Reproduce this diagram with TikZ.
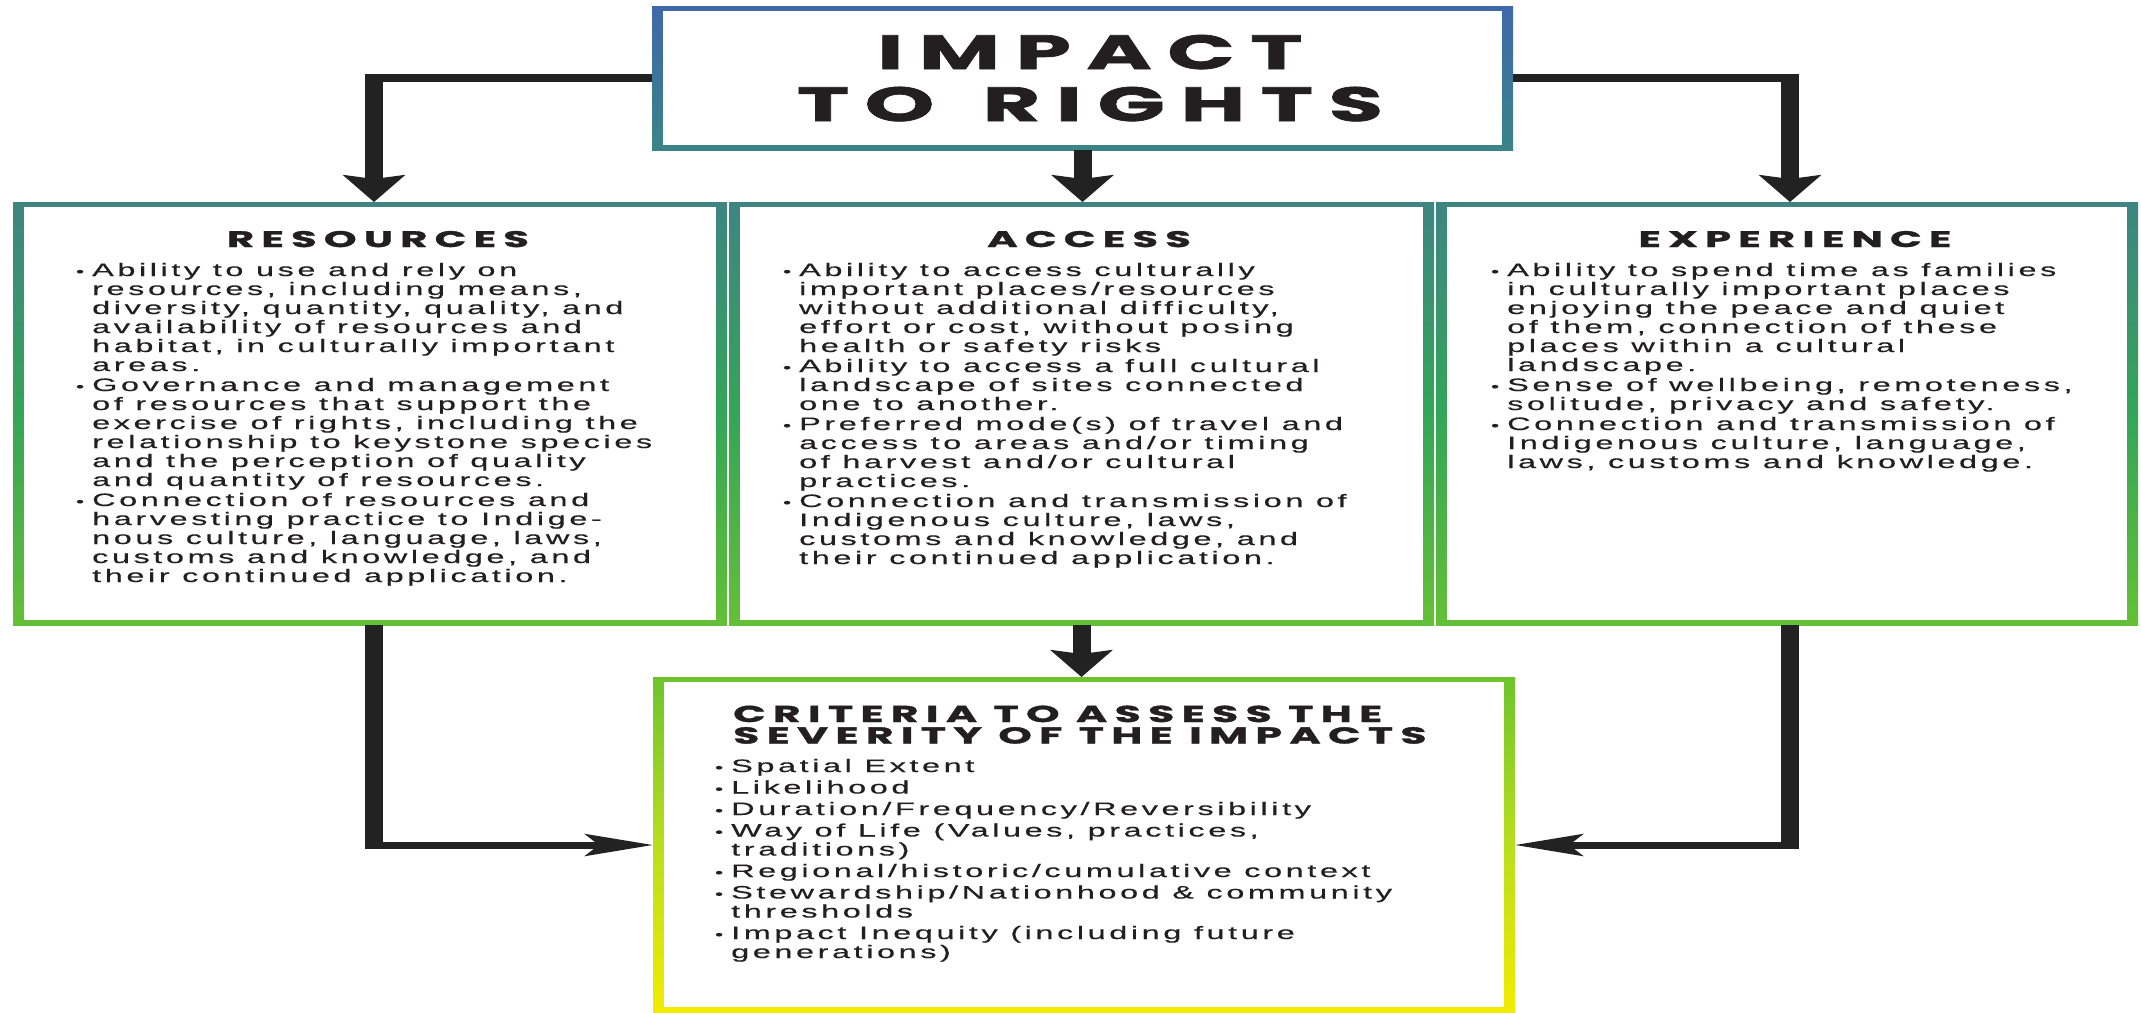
\documentclass[tikz,border=0pt]{standalone}
\usepackage{fontspec}
\usetikzlibrary{arrows.meta}
\setmainfont{Liberation Sans}
\newfontfamily\bodyfont{Liberation Sans}[FakeStretch=1.8,LetterSpace=20,FakeBold=0.4]
\newfontfamily\headfont{Poppins}[FakeStretch=1.85,LetterSpace=32,FakeBold=1.5]
\definecolor{ink}{RGB}{34,34,34}
\definecolor{txt}{RGB}{35,31,32}
\definecolor{tbA}{RGB}{63,104,170}
\definecolor{tbB}{RGB}{58,132,135}
\definecolor{tgA}{RGB}{62,133,130}
\definecolor{tgB}{RGB}{52,165,88}
\definecolor{tgC}{RGB}{100,192,55}
\definecolor{gyA}{RGB}{110,195,45}
\definecolor{gyB}{RGB}{185,222,30}
\definecolor{gyC}{RGB}{242,235,0}
\newcommand{\bul}{\noindent\llap{{\fontsize{13}{13}\selectfont\textbullet}\hspace{8pt}}}
\newcommand{\btext}[1]{\parbox[t]{760pt}{\bodyfont\fontsize{18}{19}\selectfont\setlength{\parindent}{0pt}\setlength{\parskip}{1pt}\raggedright #1}}
\newcommand{\ctext}[1]{\parbox[t]{760pt}{\bodyfont\fontsize{18}{19}\selectfont\setlength{\parindent}{0pt}\setlength{\parskip}{2.5pt}\raggedright #1}}
\begin{document}
\begin{tikzpicture}[x=1pt,y=-1pt,
  box/.style={rectangle, inner sep=0pt, outer sep=0pt, anchor=north west,
    path picture={\fill[white] ([xshift=11pt,yshift=-5pt]path picture bounding box.north west) rectangle ([xshift=-11pt,yshift=5pt]path picture bounding box.south east);}},
  tb/.style={top color=tbA, bottom color=tbB},
  tg/.style={top color=tgA, bottom color=tgC, middle color=tgB},
  gy/.style={top color=gyA, bottom color=gyC, middle color=gyB},
  head/.style={anchor=base, inner sep=0pt, text=txt, font=\headfont\bfseries\fontsize{22.5}{22.5}\selectfont},
  body/.style={anchor=base west, inner sep=0pt, text=txt},
  hl/.style={draw=ink, line width=8pt},
  vl/.style={draw=ink, line width=18pt},
  downarr/.style={vl, -{Stealth[length=27pt,width=62pt,inset=4pt]}},
  sidearr/.style={draw=ink, line width=7pt, -{Stealth[length=68pt,width=22pt,inset=14pt]}}
]
\useasboundingbox (0,0) rectangle (2141,1012);
\fill[white] (0,0) rectangle (2141,1012);

% boxes
\node[box, tb, minimum width=861pt, minimum height=144pt] (title) at (652,6) {};
\node[box, tg, minimum width=714pt, minimum height=423pt] (res) at (13,202) {};
\node[box, tg, minimum width=705pt, minimum height=423pt] (acc) at (729,202) {};
\node[box, tg, minimum width=702pt, minimum height=423pt] (exp) at (1436,202) {};
\node[box, gy, minimum width=862pt, minimum height=335pt] (crit) at (653,677) {};

% title
\node[anchor=base, inner sep=0pt, text=txt] (ttext) at (1090,69)
  {\parbox[t]{850pt}{\centering\headfont\bfseries\fontsize{48}{52}\selectfont IMPACT\\TO\hspace{14pt} RIGHTS}};

% headings
\node[head] (hres) at (378,247) {RESOURCES};
\node[head] (hacc) at (1089,247) {ACCESS};
\node[head] (hexp) at (1795,247) {EXPERIENCE};
\node[anchor=base west, inner sep=0pt, text=txt] (hcrit) at (733,722)
  {\parbox[t]{760pt}{\headfont\bfseries\fontsize{23}{21.5}\selectfont CRITERIA TO ASSESS THE\\SEVERITY OF THE IMPACTS}};

% bodies
\node[body] (bres) at (92,276) {\btext{%
\bul Ability to use and rely on\\resources, including means,\\diversity, quantity, quality, and\\availability of resources and\\habitat, in culturally important\\areas.\par
\bul Governance and management\\of resources that support the\\exercise of rights, including the\\relationship to keystone species\\and the perception of quality\\and quantity of resources.\par
\bul Connection of resources and\\harvesting practice to Indige-\\nous culture, language, laws,\\customs and knowledge, and\\their continued application.\par}};

\node[body] (bacc) at (799,276) {\btext{%
\bul Ability to access culturally\\important places/resources\\without additional difficulty,\\effort or cost, without posing\\health or safety risks\par
\bul Ability to access a full cultural\\landscape of sites connected\\one to another.\par
\bul Preferred mode(s) of travel and\\access to areas and/or timing\\of harvest and/or cultural\\practices.\par
\bul Connection and transmission of\\Indigenous culture, laws,\\customs and knowledge, and\\their continued application.\par}};

\node[body] (bexp) at (1507,276) {\btext{%
\bul Ability to spend time as families\\in culturally important places\\enjoying the peace and quiet\\of them, connection of these\\places within a cultural\\landscape.\par
\bul Sense of wellbeing, remoteness,\\solitude, privacy and safety.\par
\bul Connection and transmission of\\Indigenous culture, language,\\laws, customs and knowledge.\par}};

\node[body] (bcrit) at (731,772) {\ctext{%
\bul Spatial Extent\par
\bul Likelihood\par
\bul Duration/Frequency/Reversibility\par
\bul Way of Life (Values, practices,\\traditions)\par
\bul Regional/historic/cumulative context\par
\bul Stewardship/Nationhood \& community\\thresholds\par
\bul Impact Inequity (including future\\generations)\par}};

% connectors
\coordinate (lc) at (374,78);
\coordinate (rc) at (1790,78);
\coordinate (lb) at (374,845);
\coordinate (rb) at (1790,845);
\draw[hl] (title.west) -- ([xshift=-9pt]lc);
\draw[downarr] ([yshift=4pt]lc) -- (lc |- res.north);
\draw[hl] (title.east) -- ([xshift=9pt]rc);
\draw[downarr] ([yshift=4pt]rc) -- (rc |- exp.north);
\draw[downarr] (title.south) -- (title.south |- acc.north);
\draw[downarr] (acc.south) -- (acc.south |- crit.north);
\draw[vl] (lb |- res.south) -- ([yshift=-4pt]lb);
\draw[sidearr] ([xshift=-9pt]lb) -- (crit.west |- lb);
\draw[vl] (rb |- exp.south) -- ([yshift=-4pt]rb);
\draw[sidearr] ([xshift=9pt]rb) -- (crit.east |- rb);
\end{tikzpicture}
\end{document}
